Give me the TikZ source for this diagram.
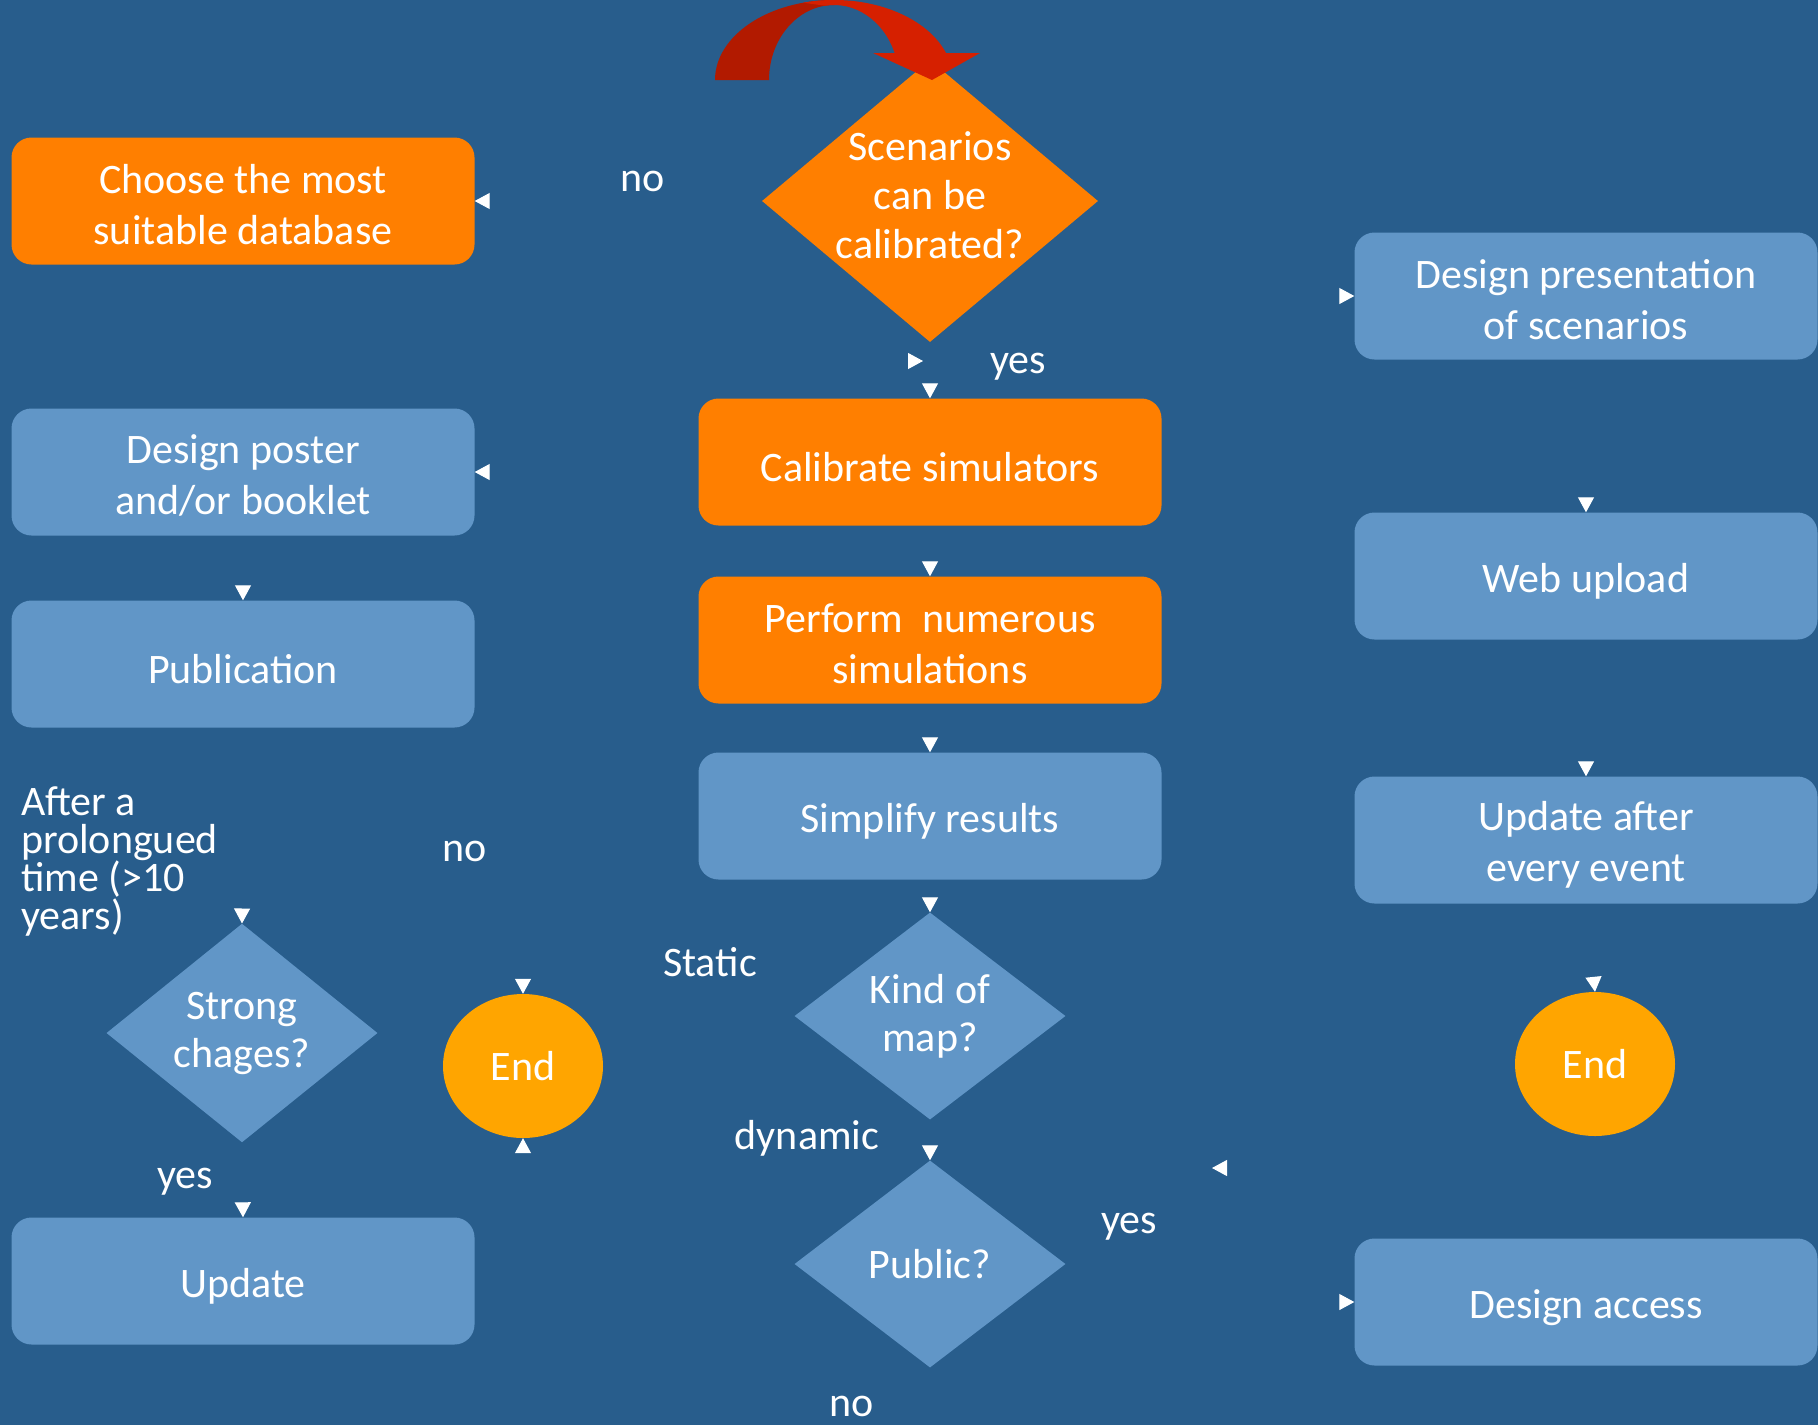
\documentclass[tikz,border=0pt]{standalone}
\usepackage{fontspec}
\setmainfont{Carlito}
\usetikzlibrary{shapes.geometric,arrows.meta}
\pgfdeclarelayer{bglayer}
\pgfdeclarelayer{edgelayer}
\pgfsetlayers{bglayer,edgelayer,main}
\definecolor{bgC}{HTML}{285D8C}
\definecolor{boxB}{HTML}{6196C7}
\definecolor{boxO}{HTML}{FF7F00}
\definecolor{endC}{HTML}{FFA500}
\definecolor{redD}{HTML}{B21A00}
\definecolor{redL}{HTML}{D62000}
\newcommand{\firstln}{\rule{0pt}{36pt}}
\begin{document}
\begin{tikzpicture}[x=1pt,y=-1pt,
  every node/.style={text=white, font=\fontsize{42}{51}\selectfont},
  box/.style={rectangle, rounded corners=20pt, minimum width=463pt, minimum height=127pt, align=center, inner sep=0pt},
  onebox/.style={execute at begin node={\rule{0pt}{40pt}}},
  obox/.style={box, fill=boxO},
  bbox/.style={box, fill=boxB},
  dec/.style={diamond, fill=boxB, align=center, inner sep=0pt, minimum width=271pt, minimum height=207pt, font=\fontsize{42}{48}\selectfont},
  endnode/.style={ellipse, fill=endC, minimum width=160pt, minimum height=144pt, inner sep=0pt},
  lbl/.style={inner sep=0pt},
  conn/.style={draw=bgC, line width=1pt, -{Triangle[length=15pt,width=16pt,color=white]}}]
\useasboundingbox (0,0) rectangle (1818,1425);
\begin{pgfonlayer}{bglayer}
\fill[bgC] (0,0) rectangle (1818,1425);
\end{pgfonlayer}

% boxes
\node[obox] (db) at (243,201) {\firstln Choose the most\\suitable database};
\node[bbox] (poster) at (243,472) {\firstln Design poster\\and/or booklet};
\node[bbox, onebox] (pub) at (243,664) {Publication};
\node[bbox, onebox] (upd) at (243,1281) {Update};
\node[obox, onebox] (calib) at (930,462) {Calibrate simulators};
\node[obox] (perf) at (930,640) {\firstln Perform~ numerous\\simulations};
\node[bbox, onebox] (simp) at (930,816) {Simplify results};
\node[bbox] (pres) at (1586,296) {\firstln Design presentation\\of scenarios};
\node[bbox, onebox] (web) at (1586,576) {Web upload};
\node[bbox] (updaft) at (1586,840) {\rule{0pt}{38pt}Update after\\every event};
\node[bbox, onebox] (access) at (1586,1302) {Design access};

% decisions
\node[dec, fill=boxO, minimum width=336pt, minimum height=282pt, inner sep=-14pt, font=\fontsize{42}{49}\selectfont, execute at end node={\rule[-12pt]{0pt}{0pt}}] (scen) at (930,201) {Scenarios\\can be\\calibrated?};
\node[dec] (kind) at (930,1016) {Kind of\\map?};
\node[dec] (pubq) at (930,1264) {Public?};
\node[dec, minimum height=209pt] (strong) at (242,1033) {Strong\\chages?};

% ends
\node[endnode] (endL) at (523,1066) {End};
\node[endnode] (endR) at (1595,1064) {End};

% labels
\node[lbl] (lno1) at (643,181) {no};
\node[lbl] (lyes1) at (1018,367) {yes};
\node[lbl] (lno2) at (465,851) {no};
\node[lbl] (lstatic) at (710,962) {Static};
\node[lbl] (ldyn) at (807,1138) {dynamic};
\node[lbl] (lyes2) at (185,1182) {yes};
\node[lbl] (lyes3) at (1129,1227) {yes};
\node[lbl] (lno3) at (852,1406) {no};
\node[lbl, align=left, anchor=north west, font=\fontsize{42}{38}\selectfont] (after) at (21,786) {After a\\prolongued\\time (>10\\years)};

% free ends and bends
\coordinate (j1) at (923,361);
\coordinate (j2) at (1212,1168);
\coordinate (nob) at (1290,1410);
\coordinate (sbend) at (640,700);
\coordinate (nb) at (420,940);
\coordinate (pb) at (1250,1264);

\begin{pgfonlayer}{edgelayer}
\draw[conn] (scen.west) -- (db.east);
\draw[conn] (scen.south) -- (calib.north);
\draw[conn] (db.south) |- (j1);
\draw[conn] (calib.south) -- (perf.north);
\draw[conn] (perf.south) -- (simp.north);
\draw[conn] (simp.south) -- (kind.north);
\draw[conn] (kind.west) -| (sbend) |- (poster.east);
\draw[conn] (poster.south) -- (pub.north);
\draw[conn] (pub.south) -- (strong.north);
\draw[conn] (strong.east) -| (nb) -| (endL.north);
\draw[conn] (strong.south) -- (upd.north);
\draw[conn] (upd.east) -| (endL.south);
\draw[conn] (kind.south) -- (pubq.north);
\draw[conn] (pubq.east) -| (pb) |- (access.west);
\draw[conn] (pubq.south) |- (nob) |- (pres.west);
\draw[conn] (access.north) |- (j2);
\draw[conn] (pres.south) -- (web.north);
\draw[conn] (web.south) -- (updaft.north);
\draw[conn] (updaft.south) -- (endR.north);
\end{pgfonlayer}

% red curved arrow
\fill[redD] (715,80) arc[start angle=180,end angle=270,x radius=119,y radius=80] -- (834,5) arc[start angle=270,end angle=180,x radius=65,y radius=75] -- cycle;
\fill[redL] (803.2,2.7) arc[start angle=255,end angle=340.3,x radius=119,y radius=80] -- (980,53) -- (932,80) -- (873,53) -- (894.6,53) arc[start angle=338.9,end angle=262,x radius=65,y radius=75] -- cycle;
\end{tikzpicture}
\end{document}
